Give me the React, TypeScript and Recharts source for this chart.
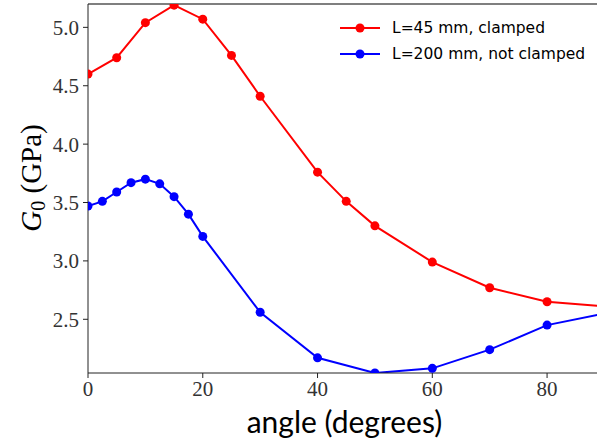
import React from 'react';
import { LineChart, Line, XAxis, YAxis, ReferenceLine } from 'recharts';

const redAngles = [0, 5, 10, 15, 20, 25, 30, 40, 45, 50, 60, 70, 80, 90];
const redValues = [4.6, 4.74, 5.04, 5.19, 5.07, 4.76, 4.41, 3.76, 3.51, 3.3, 2.99, 2.77, 2.65, 2.61];
const blueAngles = [0, 2.5, 5, 7.5, 10, 12.5, 15, 17.5, 20, 30, 40, 50, 60, 70, 80, 90];
const blueValues = [3.47, 3.51, 3.59, 3.67, 3.7, 3.66, 3.55, 3.4, 3.21, 2.56, 2.17, 2.04, 2.08, 2.24, 2.45, 2.55];
const xTicks = [0, 20, 40, 60, 80];
const yTicks = [2.5, 3.0, 3.5, 4.0, 4.5, 5.0];
const seriesNames = ['L=45 mm, clamped', 'L=200 mm, not clamped'];
const seriesColors = ['#ff0000', '#0000ff'];

const redData = redAngles.map((x, i) => ({ x, y: redValues[i] }));
const blueData = blueAngles.map((x, i) => ({ x, y: blueValues[i] }));

const X_MAX = 88.7;
const Y_MIN = 2.04;
const Y_MAX = 5.2;

const serif = '"Liberation Serif", "DejaVu Serif", serif';
const sans = 'Lato, "DejaVu Sans", sans-serif';
const legendFont = '"DejaVu Sans", sans-serif';

const YLabel = () => {
  const cx = 31;
  const cy = 178;
  return (
    <text
      x={cx}
      y={cy}
      transform={`rotate(-90, ${cx}, ${cy})`}
      textAnchor="middle"
      dominantBaseline="central"
      fontFamily={serif}
      fontSize={29}
      fill="#000"
    >
      <tspan fontStyle="italic">G</tspan>
      <tspan fontSize={20} dy={7}>0</tspan>
      <tspan dy={-7}> (GPa)</tspan>
    </text>
  );
};

const XLabel = (props: any) => {
  const vb = props.viewBox || {};
  return (
    <text
      x={vb.x + vb.width / 2 + 2}
      y={433}
      textAnchor="middle"
      fontFamily={sans}
      fontSize={30}
      fill="#000"
    >
      angle (degrees)
    </text>
  );
};

const LegendBox = () => (
  <div
    style={{
      position: 'absolute',
      left: 340,
      top: 15,
      fontFamily: legendFont,
      fontSize: 15.5,
      color: '#000',
      lineHeight: '26px',
    }}
  >
    {seriesNames.map((n, i) => (
      <div key={n} style={{ display: 'flex', alignItems: 'center', whiteSpace: 'nowrap', height: 26 }}>
        <svg width={52} height={26} style={{ display: 'block' }}>
          <line x1={0} y1={13} x2={40} y2={13} stroke={seriesColors[i]} strokeWidth={2} />
          <circle cx={20} cy={13} r={4.5} fill={seriesColors[i]} />
        </svg>
        <span>{n}</span>
      </div>
    ))}
  </div>
);

export default function App() {
  return (
    <div style={{ position: 'absolute', left: 0, top: 0, width: 597, height: 446 }}>
      <LineChart width={597} height={446} margin={{ top: 4, right: 0, left: 0, bottom: 0 }}>
        <XAxis
          type="number"
          dataKey="x"
          domain={[0, X_MAX]}
          allowDataOverflow
          ticks={xTicks}
          height={73}
          tickSize={5}
          tickMargin={3}
          stroke="#222"
          tick={{ fontFamily: serif, fontSize: 21, fill: '#333' }}
          label={<XLabel />}
        />
        <YAxis
          type="number"
          dataKey="y"
          domain={[Y_MIN, Y_MAX]}
          allowDataOverflow
          ticks={yTicks}
          tickFormatter={(v: number) => v.toFixed(1)}
          width={88}
          tickSize={5}
          tickMargin={4}
          stroke="#222"
          tick={{ fontFamily: serif, fontSize: 21, fill: '#333' }}
          label={<YLabel />}
        />
        <ReferenceLine y={Y_MAX} stroke="#000" strokeWidth={1.2} />
        <Line
          data={redData}
          dataKey="y"
          stroke={seriesColors[0]}
          strokeWidth={2}
          dot={{ r: 4.5, fill: seriesColors[0], stroke: seriesColors[0], strokeWidth: 0 }}
          activeDot={false}
          isAnimationActive={false}
          name={seriesNames[0]}
        />
        <Line
          data={blueData}
          dataKey="y"
          stroke={seriesColors[1]}
          strokeWidth={2}
          dot={{ r: 4.5, fill: seriesColors[1], stroke: seriesColors[1], strokeWidth: 0 }}
          activeDot={false}
          isAnimationActive={false}
          name={seriesNames[1]}
        />
      </LineChart>
      <LegendBox />
    </div>
  );
}
